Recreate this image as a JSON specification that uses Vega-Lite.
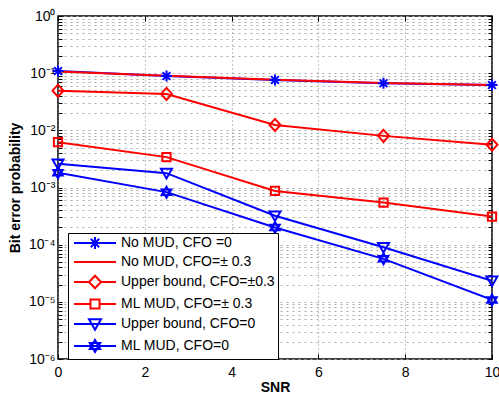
{
  "$schema": "https://vega.github.io/schema/vega-lite/v6.json",
  "width": 434,
  "height": 343,
  "autosize": {"type": "none"},
  "padding": {"left": 58, "top": 16, "right": 7, "bottom": 37},
  "background": "white",
  "config": {
    "view": {"stroke": "black", "strokeWidth": 1.5},
    "font": "Liberation Sans",
    "axis": {"labelColor": "black", "titleColor": "black", "labelFont": "Liberation Sans", "titleFont": "Liberation Sans"},
    "legend": {
      "orient": "none", "legendX": 10, "legendY": 217,
      "title": null,
      "labelFontSize": 14, "labelFont": "Liberation Sans", "labelColor": "black", "labelLimit": 400,
      "symbolSize": 144, "symbolStrokeWidth": 2, "symbolOpacity": 1, "symbolFillColor": "transparent",
      "symbolOffset": 17, "labelOffset": 19, "padding": 3, "rowPadding": 2,
      "fillColor": "white", "strokeColor": "black"
    }
  },
  "datasets": {
    "ber": [
      {"s": "No MUD, CFO =0", "x": 0, "y": 0.109},
      {"s": "No MUD, CFO =0", "x": 2.5, "y": 0.089},
      {"s": "No MUD, CFO =0", "x": 5, "y": 0.076},
      {"s": "No MUD, CFO =0", "x": 7.5, "y": 0.0666},
      {"s": "No MUD, CFO =0", "x": 10, "y": 0.062},
      {"s": "No MUD, CFO=± 0.3", "x": 0, "y": 0.107},
      {"s": "No MUD, CFO=± 0.3", "x": 2.5, "y": 0.090},
      {"s": "No MUD, CFO=± 0.3", "x": 5, "y": 0.077},
      {"s": "No MUD, CFO=± 0.3", "x": 7.5, "y": 0.067},
      {"s": "No MUD, CFO=± 0.3", "x": 10, "y": 0.062},
      {"s": "Upper bound, CFO=±0.3", "x": 0, "y": 0.0494},
      {"s": "Upper bound, CFO=±0.3", "x": 2.5, "y": 0.0433},
      {"s": "Upper bound, CFO=±0.3", "x": 5, "y": 0.0124},
      {"s": "Upper bound, CFO=±0.3", "x": 7.5, "y": 0.0080},
      {"s": "Upper bound, CFO=±0.3", "x": 10, "y": 0.0056},
      {"s": "ML MUD, CFO=± 0.3", "x": 0, "y": 0.0062},
      {"s": "ML MUD, CFO=± 0.3", "x": 2.5, "y": 0.0034},
      {"s": "ML MUD, CFO=± 0.3", "x": 5, "y": 0.00087},
      {"s": "ML MUD, CFO=± 0.3", "x": 7.5, "y": 0.000545},
      {"s": "ML MUD, CFO=± 0.3", "x": 10, "y": 0.00031},
      {"s": "Upper bound, CFO=0", "x": 0, "y": 0.0026},
      {"s": "Upper bound, CFO=0", "x": 2.5, "y": 0.00178},
      {"s": "Upper bound, CFO=0", "x": 5, "y": 0.00032},
      {"s": "Upper bound, CFO=0", "x": 7.5, "y": 0.00009},
      {"s": "Upper bound, CFO=0", "x": 10, "y": 0.0000233},
      {"s": "ML MUD, CFO=0", "x": 0, "y": 0.00182},
      {"s": "ML MUD, CFO=0", "x": 2.5, "y": 0.00083},
      {"s": "ML MUD, CFO=0", "x": 5, "y": 0.0002},
      {"s": "ML MUD, CFO=0", "x": 7.5, "y": 0.0000565},
      {"s": "ML MUD, CFO=0", "x": 10, "y": 0.0000108}
    ]
  },
  "data": {"name": "ber"},
  "layer": [
    {
      "mark": {"type": "line", "strokeWidth": 2, "clip": true},
      "encoding": {
        "x": {
          "field": "x", "type": "quantitative",
          "scale": {"domain": [0, 10], "nice": false, "zero": false},
          "axis": {
            "values": [0, 2, 4, 6, 8, 10],
            "title": "SNR", "titleFontWeight": "bold", "titleFontSize": 14, "titlePadding": 1,
            "labelFontSize": 14, "labelPadding": 11, "labelFlush": false,
            "grid": true, "gridDash": [1, 3], "gridColor": "#888", "gridWidth": 1,
            "tickSize": -5, "tickColor": "black", "domain": false
          }
        },
        "y": {
          "field": "y", "type": "quantitative",
          "scale": {"type": "log", "domain": [0.000001, 1], "nice": false},
          "axis": {
            "values": [0.000001, 0.000002, 0.000003, 0.000004, 0.000005, 0.000006, 0.000007, 0.000008, 0.000009,
                       0.00001, 0.00002, 0.00003, 0.00004, 0.00005, 0.00006, 0.00007, 0.00008, 0.00009,
                       0.0001, 0.0002, 0.0003, 0.0004, 0.0005, 0.0006, 0.0007, 0.0008, 0.0009,
                       0.001, 0.002, 0.003, 0.004, 0.005, 0.006, 0.007, 0.008, 0.009,
                       0.01, 0.02, 0.03, 0.04, 0.05, 0.06, 0.07, 0.08, 0.09,
                       0.1, 0.2, 0.3, 0.4, 0.5, 0.6, 0.7, 0.8, 0.9, 1],
            "labelExpr": "abs(log(datum.value)/LN10 - round(log(datum.value)/LN10)) < 0.001 ? '10' + ['⁰','⁻¹','⁻²','⁻³','⁻⁴','⁻⁵','⁻⁶'][-round(log(datum.value)/LN10)] : ''",
            "labelOverlap": false, "labelBound": false, "labelFlush": false,
            "title": "Bit error probability", "titleFontWeight": "bold", "titleFontSize": 14, "titlePadding": 6,
            "labelFontSize": 14, "labelPadding": 7,
            "grid": true, "gridDash": [2, 4], "gridColor": "#aaa", "gridWidth": 1,
            "tickSize": -4, "tickColor": "black", "domain": false
          }
        },
        "color": {
          "field": "s", "type": "nominal",
          "scale": {
            "domain": ["No MUD, CFO =0", "No MUD, CFO=± 0.3", "Upper bound, CFO=±0.3", "ML MUD, CFO=± 0.3", "Upper bound, CFO=0", "ML MUD, CFO=0"],
            "range": ["#0000ff", "#ff0000", "#ff0000", "#ff0000", "#0000ff", "#0000ff"]
          },
          "legend": null
        }
      }
    },
    {
      "mark": {"type": "point", "opacity": 0},
      "encoding": {
        "x": {
          "field": "x", "type": "quantitative",
          "axis": {"orient": "top", "values": [0, 2, 4, 6, 8, 10], "labels": false, "title": null, "grid": false, "domain": false, "tickSize": -5, "tickColor": "black"}
        },
        "y": {
          "field": "y", "type": "quantitative",
          "axis": {
            "orient": "right",
            "values": [0.000001, 0.000002, 0.000003, 0.000004, 0.000005, 0.000006, 0.000007, 0.000008, 0.000009,
                       0.00001, 0.00002, 0.00003, 0.00004, 0.00005, 0.00006, 0.00007, 0.00008, 0.00009,
                       0.0001, 0.0002, 0.0003, 0.0004, 0.0005, 0.0006, 0.0007, 0.0008, 0.0009,
                       0.001, 0.002, 0.003, 0.004, 0.005, 0.006, 0.007, 0.008, 0.009,
                       0.01, 0.02, 0.03, 0.04, 0.05, 0.06, 0.07, 0.08, 0.09,
                       0.1, 0.2, 0.3, 0.4, 0.5, 0.6, 0.7, 0.8, 0.9, 1],
            "labels": false, "title": null, "grid": false, "domain": false, "tickSize": -4, "tickColor": "black"
          }
        }
      }
    },
    {
      "transform": [{"filter": "datum.s != 'No MUD, CFO=± 0.3'"}],
      "mark": {"type": "point", "filled": false, "strokeWidth": 2, "size": 121, "opacity": 1, "clip": false},
      "encoding": {
        "x": {"field": "x", "type": "quantitative", "axis": null},
        "y": {"field": "y", "type": "quantitative", "axis": null},
        "color": {
          "field": "s", "type": "nominal",
          "scale": {
            "domain": ["No MUD, CFO =0", "No MUD, CFO=± 0.3", "Upper bound, CFO=±0.3", "ML MUD, CFO=± 0.3", "Upper bound, CFO=0", "ML MUD, CFO=0"],
            "range": ["#0000ff", "#ff0000", "#ff0000", "#ff0000", "#0000ff", "#0000ff"]
          },
          "legend": null
        },
        "shape": {
          "field": "s", "type": "nominal",
          "scale": {
            "domain": ["No MUD, CFO =0", "Upper bound, CFO=±0.3", "ML MUD, CFO=± 0.3", "Upper bound, CFO=0", "ML MUD, CFO=0"],
            "range": [
              "M-1,0L1,0M0,-1L0,1M-0.7,-0.7L0.7,0.7M-0.7,0.7L0.7,-0.7",
              "M0,-1.1L1,0L0,1.1L-1,0Z",
              "M-0.75,-0.75L0.75,-0.75L0.75,0.75L-0.75,0.75Z",
              "M-1,-0.8L1,-0.8L0,0.95Z",
              "M0,-1L0.866,0.5L-0.866,0.5ZM0,1L-0.866,-0.5L0.866,-0.5Z"
            ]
          },
          "legend": null
        }
      }
    },
    {
      "mark": {"type": "point", "opacity": 0, "filled": false, "strokeWidth": 2},
      "encoding": {
        "x": {"field": "x", "type": "quantitative", "axis": null},
        "y": {"field": "y", "type": "quantitative", "axis": null},
        "color": {
          "field": "s", "type": "nominal",
          "scale": {
            "domain": ["No MUD, CFO =0", "No MUD, CFO=± 0.3", "Upper bound, CFO=±0.3", "ML MUD, CFO=± 0.3", "Upper bound, CFO=0", "ML MUD, CFO=0"],
            "range": ["#0000ff", "#ff0000", "#ff0000", "#ff0000", "#0000ff", "#0000ff"]
          },
          "legend": {"encode": {"legend": {"update": {"strokeWidth": {"value": 2}}}}}
        },
        "shape": {
          "field": "s", "type": "nominal",
          "scale": {
            "domain": ["No MUD, CFO =0", "No MUD, CFO=± 0.3", "Upper bound, CFO=±0.3", "ML MUD, CFO=± 0.3", "Upper bound, CFO=0", "ML MUD, CFO=0"],
            "range": [
              "M-3.5,0L3.5,0M0,-1L0,1M-0.7,-0.7L0.7,0.7M-0.7,0.7L0.7,-0.7",
              "M-3.5,0L3.5,0",
              "M-3.5,0L-1,0M1,0L3.5,0M0,-1.05L1,0L0,1.05L-1,0Z",
              "M-3.5,0L-0.75,0M0.75,0L3.5,0M-0.75,-0.75L0.75,-0.75L0.75,0.75L-0.75,0.75Z",
              "M-3.5,0L3.5,0M-1,-0.8L1,-0.8L0,0.95Z",
              "M-3.5,0L3.5,0M0,-1L0.866,0.5L-0.866,0.5ZM0,1L-0.866,-0.5L0.866,-0.5Z"
            ]
          },
          "legend": {"encode": {"legend": {"update": {"strokeWidth": {"value": 2}}}}}
        }
      }
    }
  ],
  "resolve": {
    "scale": {"shape": "independent", "color": "independent"},
    "axis": {"x": "independent", "y": "independent"}
  }
}
